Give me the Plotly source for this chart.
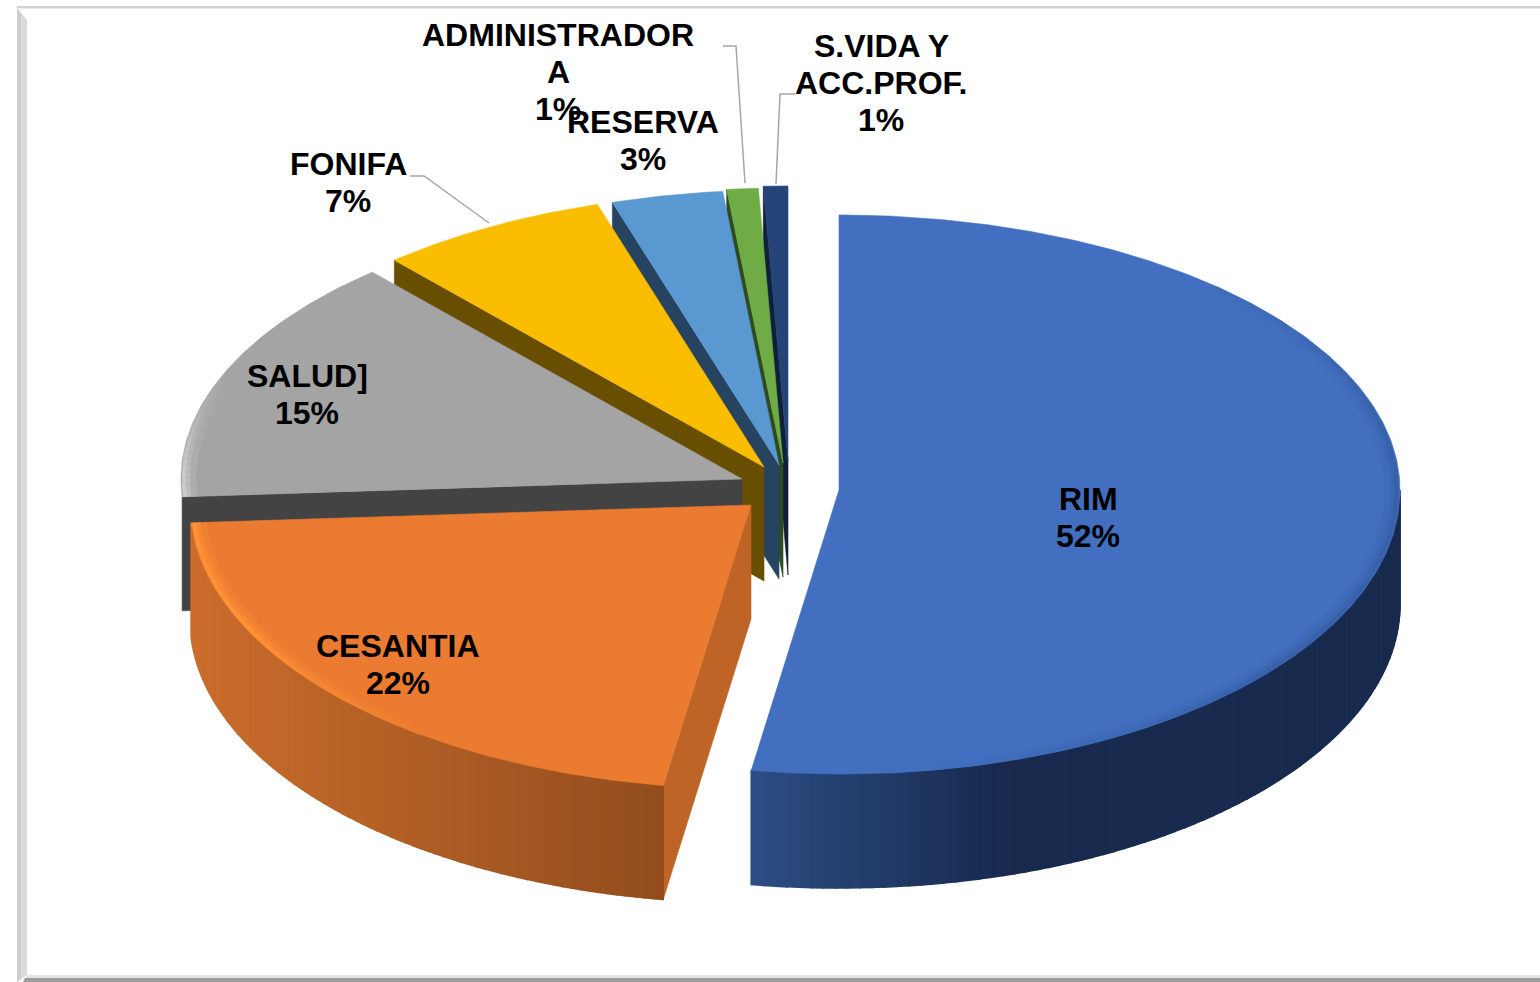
import numpy as np
import plotly.graph_objects as go

# ---- data ----
categories = ["RIM", "CESANTIA", "SALUD]", "FONIFA", "RESERVA", "ADMINISTRADORA", "S.VIDA Y ACC.PROF."]
values = [52.5, 21.5, 14.55, 6.65, 3.2, 0.9, 0.7]
label_lines = [["RIM"], ["CESANTIA"], ["SALUD]"], ["FONIFA"], ["RESERVA"],
               ["ADMINISTRADOR", "A"], ["S.VIDA Y", "ACC.PROF."]]

# ---- style / layout ----
top_colors = ["#426FBF", "#EB7B30", "#A4A4A4", "#FBBD00", "#5A98D2", "#6FAC46", "#254477"]
cut_colors = [None, "#BF6427", "#434343", "#674E00", "#264360", "#2F4A1E", "#101F3A"]
apex = [(839, 490), (751, 505), (742, 479), (764, 467), (779, 465), (783, 463), (788, 461)]
label_pos = [(1088, 517), (398, 664), (307, 394), (348, 182), (643, 140), (558, 72), (881, 83)]
RX, RY_BACK, RY_FRONT, DEPTH = 561, 275, 284, 114
FONT = "Liberation Sans, Arial, sans-serif"

total = sum(values)
edges = np.cumsum([0] + values) / total * 2 * np.pi


def rim(cx, cy, t, k=1.0):
    t = np.asarray(t, dtype=float)
    c = np.cos(t)
    ry = np.where(c > 0, RY_BACK, RY_FRONT)
    return cx + k * RX * np.sin(t), cy - k * ry * c


def mix(a, b, f):
    a = [int(a[i:i + 2], 16) for i in (1, 3, 5)]
    b = [int(b[i:i + 2], 16) for i in (1, 3, 5)]
    return "rgb(%d,%d,%d)" % tuple(round(x + (y - x) * f) for x, y in zip(a, b))


def poly(fig, xs, ys, color, lw=0.6):
    fig.add_trace(go.Scatter(x=list(xs), y=list(ys), mode="lines", fill="toself", fillcolor=color,
                             line=dict(color=color, width=lw), hoverinfo="skip", showlegend=False))


# wall shading: colour ramps by screen x, per slice
wall_ramps = {0: ("#2C4D84", "#182A4E", 752, 1000), 1: ("#CB6D2C", "#924D1D", 191, 665)}


# rim bevel: colour and strength as a function of the angle (degrees), per slice
def bevel_strength(i, deg):
    if i == 0:
        return 0.55 * float(np.clip((deg - 40) / 40, 0, 1)) * float(np.clip((175 - deg) / 50, 0, 1))
    if i == 1:
        return float(np.clip((deg - 215) / 30, 0, 1))
    if i == 2:
        return float(np.clip((292 - deg) / 22, 0, 1))
    return 0.0


bevel_colors = {0: "#2F5597", 1: "#FF9236", 2: "#CDCDCD"}

fig = go.Figure()
for i in reversed(range(len(values))):
    cx, cy = apex[i]
    t0, t1 = edges[i], edges[i + 1]
    # cut face at the start of the slice
    if cut_colors[i]:
        ex, ey = rim(cx, cy, [t0])
        poly(fig, [cx, ex[0], ex[0], cx, cx], [cy, ey[0], ey[0] + DEPTH, cy + DEPTH, cy], cut_colors[i])
    # outer wall on the front half
    a, b = max(t0, np.pi / 2), min(t1, 3 * np.pi / 2)
    if b > a and i in wall_ramps:
        c0, c1, x0, x1 = wall_ramps[i]
        cuts = np.linspace(a, b, 81)
        for s, e in zip(cuts[:-1], cuts[1:]):
            t = np.linspace(s, e, 4)
            x, y = rim(cx, cy, t)
            f = float(np.clip((x.mean() - x0) / (x1 - x0), 0, 1))
            poly(fig, np.r_[x, x[::-1], x[0]], np.r_[y, y[::-1] + DEPTH, y[0]], mix(c0, c1, f), lw=1.6)
    # top face
    t = np.linspace(t0, t1, max(8, int((t1 - t0) * 90)))
    x, y = rim(cx, cy, t)
    poly(fig, np.r_[cx, x, cx], np.r_[cy, y, cy], top_colors[i])
    # soft bevel along the rim, three passes fading inward
    if i in bevel_colors:
        cuts = np.linspace(t0, t1, 41)
        for k, w, amount in ((0.978, 6, 0.25), (0.988, 5, 0.6), (0.995, 4, 1.0)):
            for s, e in zip(cuts[:-1], cuts[1:]):
                st = bevel_strength(i, np.degrees((s + e) / 2)) * amount
                if st <= 0.01:
                    continue
                x, y = rim(cx, cy, [s, (s + e) / 2, e], k)
                fig.add_trace(go.Scatter(x=x, y=y, mode="lines", hoverinfo="skip", showlegend=False,
                                         line=dict(color=mix(top_colors[i], bevel_colors[i], st), width=w)))

# leader lines
leaders = [([410, 424, 489], [176, 176, 223]), ([723, 736, 745], [46, 46, 183]), ([795, 780, 776], [94, 94, 184])]
for lx, ly in leaders:
    fig.add_trace(go.Scatter(x=lx, y=ly, mode="lines", line=dict(color="#A6A6A6", width=1.5),
                             hoverinfo="skip", showlegend=False))

# labels, one annotation per line to hold the tight line pitch
PITCH = 37
annotations = []
for lines, v, (lx, ly) in zip(label_lines, values, label_pos):
    all_lines = lines + [f"{round(v)}%"]
    top = ly - PITCH * (len(all_lines) - 1) / 2
    for k, s in enumerate(all_lines):
        annotations.append(dict(x=lx, y=top + k * PITCH, text=f"<b>{s}</b>", showarrow=False,
                                xanchor="center", yanchor="middle",
                                font=dict(family=FONT, size=32, color="#000000")))

# bevelled frame
frame = [
    dict(type="path", path="M17,6 L1540,6 L1540,8 L17,8 Z", fillcolor="#D2D2D2", line_width=0, layer="below"),
    dict(type="path", path="M1540,8 L18,8 L18,9 L1540,9 Z", fillcolor="#EDEDED", line_width=0, layer="below"),
    dict(type="path", path="M17,8 L27,20 L27,975 L17,982 Z", fillcolor="#DADADA", line_width=0, layer="below"),
    dict(type="path", path="M17,8 L21,13 L21,979 L17,982 Z", fillcolor="#CFCFCF", line_width=0, layer="below"),
    dict(type="path", path="M27,975 L1540,975 L1540,978 L25,978 Z", fillcolor="#E4E4E4", line_width=0, layer="below"),
    dict(type="path", path="M25,978 L1540,978 L1540,982 L23,982 Z", fillcolor="#9C9C9C", line_width=0, layer="below"),
]

fig.update_layout(
    width=1540, height=982, margin=dict(l=0, r=0, t=0, b=0),
    paper_bgcolor="#FFFFFF", plot_bgcolor="#FFFFFF", showlegend=False,
    xaxis=dict(range=[0, 1540], visible=False, fixedrange=True),
    yaxis=dict(range=[982, 0], visible=False, fixedrange=True),
    annotations=annotations, shapes=frame,
)
fig.write_html("out.html", config={"displayModeBar": False},
               post_script="document.body.style.margin='0';document.body.style.overflow='hidden';")
